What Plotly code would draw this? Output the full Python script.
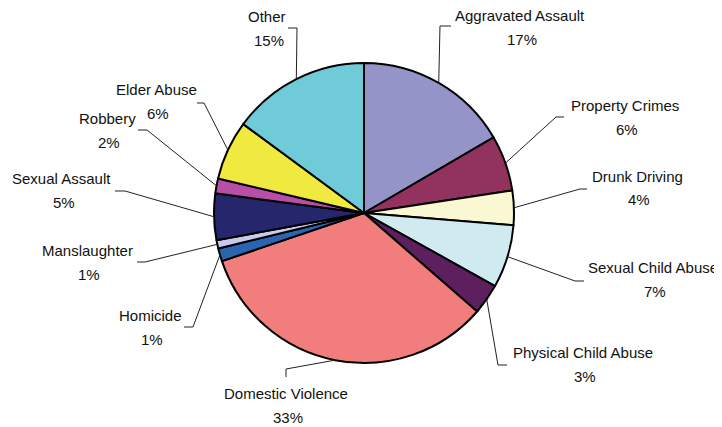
import math
import plotly.graph_objects as go

# ---- data ----
categories = ["Aggravated Assault", "Property Crimes", "Drunk Driving", "Sexual Child Abuse",
              "Physical Child Abuse", "Domestic Violence", "Homicide", "Manslaughter",
              "Sexual Assault", "Robbery", "Elder Abuse", "Other"]
values = [16.6, 6.0, 3.7, 6.8, 3.3, 33.4, 1.4, 0.9, 5.0, 1.6, 6.4, 14.9]

# ---- style / layout ----
colors = ["#9494C8", "#92325F", "#FAF8D2", "#CFEBF0", "#5E1F5E", "#F27D7D",
          "#2A66B0", "#C9C9EC", "#25266B", "#B84EA8", "#EFE940", "#70CBD8"]
OFF = 8                      # page body margin
W, H = 714, 419              # figure size (page is 722x427)
CX, CY, R = 364, 213, 150    # pie centre / radius in page pixels
# label name centre (page px) and leader-line points after the slice anchor (page px)
label_pos = [
    (520, 15.5, [(440, 26), (451, 26)]),
    (625, 105, [(556, 117), (564, 117)]),
    (637, 176, [(580, 189), (587, 189)]),
    (653, 267, [(575, 281), (584, 281)]),
    (583, 352, [(498, 365), (507, 365)]),
    (286, 393, [(286, 369), (286, 377)]),
    (150, 315, [(193, 327), (184, 327)]),
    (87, 250, [(145, 262), (137, 262)]),
    (62, 178, [(125, 191), (115, 191)]),
    (107, 118, [(147, 130), (138, 130)]),
    (156, 89, [(204, 103), (197, 103)]),
    (267, 16.5, [(297, 28), (288, 28)]),
]
FONT = dict(family="Liberation Sans, Arial, sans-serif", size=15, color="#111111")

def px(x, y):
    return (x - OFF) / W, 1 - (y - OFF) / H

fig = go.Figure(go.Pie(
    labels=categories, values=values, sort=False, direction="clockwise", rotation=0,
    marker=dict(colors=colors, line=dict(color="#000000", width=2)),
    textinfo="none", hoverinfo="label+percent",
    domain=dict(x=[(CX - R - OFF) / W, (CX + R - OFF) / W],
                y=[1 - (CY + R - OFF) / H, 1 - (CY - R - OFF) / H]),
    showlegend=False,
))

total = sum(values)
cum = 0.0
annotations = []
shapes = []
for name, v, (tx, ty, pts) in zip(categories, values, label_pos):
    mid = (cum + v / 2) / total * 2 * math.pi
    cum += v
    ax, ay = CX + R * math.sin(mid), CY - R * math.cos(mid)
    allpts = [(ax, ay)] + pts
    path = ""
    for i, (x, y) in enumerate(allpts):
        X, Y = px(x, y)
        path += ("M" if i == 0 else " L") + f"{X:.5f},{Y:.5f}"
    shapes.append(dict(type="path", path=path, xref="paper", yref="paper",
                       line=dict(color="#222222", width=1)))
    X, Y = px(tx, ty)
    annotations.append(dict(x=X, y=Y, xref="paper", yref="paper", text=name,
                            showarrow=False, xanchor="center", yanchor="middle", font=FONT))
    X, Y = px(tx + 2, ty + 24)
    annotations.append(dict(x=X, y=Y, xref="paper", yref="paper", text=f"{v:.0f}%",
                            showarrow=False, xanchor="center", yanchor="middle", font=FONT))

fig.update_layout(width=W, height=H, margin=dict(l=0, r=0, t=0, b=0),
                  paper_bgcolor="white", plot_bgcolor="white",
                  annotations=annotations, shapes=shapes)
fig.write_html("out.html")
